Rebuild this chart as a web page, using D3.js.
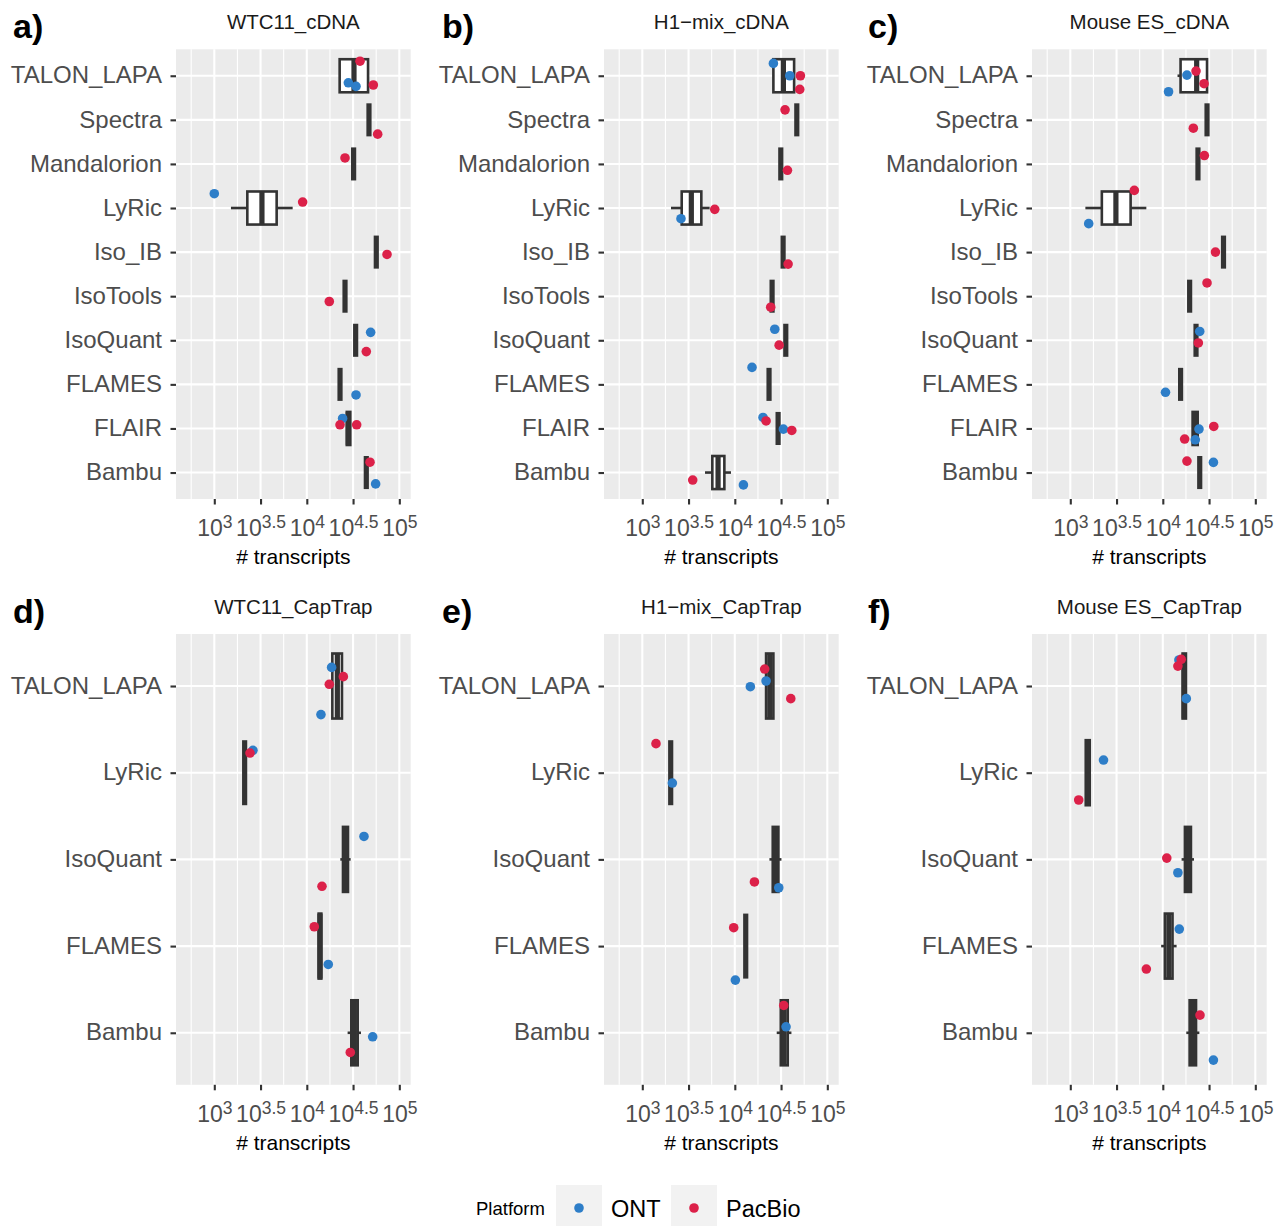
<!DOCTYPE html>
<html>
<head>
<meta charset="utf-8">
<script src="https://cdn.jsdelivr.net/npm/d3@7"></script>
<style>
  body { margin: 0; background: #fff; }
  svg { display: block; }
  text { font-family: "Liberation Sans", Arial, Helvetica, sans-serif; }
</style>
</head>
<body>
<svg id="chart" width="1282" height="1226"></svg>
<script>
// ---- data -------------------------------------------------------------
const cdnaMethods = ["TALON_LAPA", "Spectra", "Mandalorion", "LyRic", "Iso_IB",
                     "IsoTools", "IsoQuant", "FLAMES", "FLAIR", "Bambu"];
const captrapMethods = ["TALON_LAPA", "LyRic", "IsoQuant", "FLAMES", "Bambu"];

const panelTitles = ["WTC11_cDNA", "H1\u2212mix_cDNA", "Mouse ES_cDNA",
                     "WTC11_CapTrap", "H1\u2212mix_CapTrap", "Mouse ES_CapTrap"];
const panelTags = ["a)", "b)", "c)", "d)", "e)", "f)"];

const platforms = ["ONT", "PacBio"];
const platformColors = ["#2e7ec8", "#dc2149"];

const xTickExponents = [3, 3.5, 4, 4.5, 5];
const xTickLabels = ["3", "3.5", "4", "4.5", "5"];
const xMinorExponents = [2.75, 3.25, 3.75, 4.25, 4.75];
const xDomain = [2.586, 5.123];

// Boxplot summaries, log10(# transcripts):
// [method, lower whisker, Q1, median, Q3, upper whisker]
const boxesWtcCdna = [
  ["TALON_LAPA", 4.355, 4.355, 4.510, 4.662, 4.662],
  ["Spectra", 4.672, 4.672, 4.672, 4.672, 4.672],
  ["Mandalorion", 4.506, 4.506, 4.506, 4.506, 4.506],
  ["LyRic", 3.180, 3.357, 3.515, 3.674, 3.847],
  ["Iso_IB", 4.751, 4.751, 4.751, 4.751, 4.751],
  ["IsoTools", 4.413, 4.413, 4.413, 4.413, 4.413],
  ["IsoQuant", 4.528, 4.528, 4.528, 4.528, 4.528],
  ["FLAMES", 4.359, 4.359, 4.359, 4.359, 4.359],
  ["FLAIR", 4.432, 4.432, 4.449, 4.470, 4.470],
  ["Bambu", 4.643, 4.643, 4.643, 4.643, 4.643]
];
const boxesH1Cdna = [
  ["TALON_LAPA", 4.417, 4.417, 4.525, 4.641, 4.641],
  ["Spectra", 4.670, 4.670, 4.670, 4.670, 4.670],
  ["Mandalorion", 4.497, 4.497, 4.497, 4.497, 4.497],
  ["LyRic", 3.310, 3.426, 3.530, 3.638, 3.728],
  ["Iso_IB", 4.522, 4.522, 4.522, 4.522, 4.522],
  ["IsoTools", 4.403, 4.403, 4.403, 4.403, 4.403],
  ["IsoQuant", 4.551, 4.551, 4.551, 4.551, 4.551],
  ["FLAMES", 4.370, 4.370, 4.370, 4.370, 4.370],
  ["FLAIR", 4.468, 4.468, 4.468, 4.468, 4.468],
  ["Bambu", 3.678, 3.757, 3.819, 3.887, 3.959]
];
const boxesMouseCdna = [
  ["TALON_LAPA", 4.159, 4.192, 4.366, 4.478, 4.478],
  ["Spectra", 4.478, 4.478, 4.478, 4.478, 4.478],
  ["Mandalorion", 4.380, 4.380, 4.380, 4.380, 4.380],
  ["LyRic", 3.163, 3.341, 3.493, 3.652, 3.822],
  ["Iso_IB", 4.656, 4.656, 4.656, 4.656, 4.656],
  ["IsoTools", 4.290, 4.290, 4.290, 4.290, 4.290],
  ["IsoQuant", 4.359, 4.359, 4.359, 4.359, 4.359],
  ["FLAMES", 4.192, 4.192, 4.192, 4.192, 4.192],
  ["FLAIR", 4.322, 4.322, 4.348, 4.377, 4.377],
  ["Bambu", 4.399, 4.399, 4.399, 4.399, 4.399]
];
const boxesWtcCaptrap = [
  ["TALON_LAPA", 4.276, 4.276, 4.330, 4.380, 4.380],
  ["LyRic", 3.328, 3.328, 3.328, 3.328, 3.328],
  ["IsoQuant", 4.362, 4.391, 4.416, 4.445, 4.474],
  ["FLAMES", 4.128, 4.128, 4.142, 4.157, 4.157],
  ["Bambu", 4.441, 4.481, 4.514, 4.550, 4.586]
];
const boxesH1Captrap = [
  ["TALON_LAPA", 4.338, 4.338, 4.378, 4.417, 4.417],
  ["LyRic", 3.307, 3.307, 3.307, 3.307, 3.307],
  ["IsoQuant", 4.374, 4.410, 4.439, 4.471, 4.504],
  ["FLAMES", 4.118, 4.118, 4.118, 4.118, 4.118],
  ["Bambu", 4.453, 4.497, 4.533, 4.572, 4.612]
];
const boxesMouseCaptrap = [
  ["TALON_LAPA", 4.214, 4.214, 4.232, 4.250, 4.250],
  ["LyRic", 3.167, 3.167, 3.188, 3.210, 3.210],
  ["IsoQuant", 4.203, 4.239, 4.272, 4.304, 4.337],
  ["FLAMES", 3.982, 4.022, 4.065, 4.105, 4.149],
  ["Bambu", 4.254, 4.290, 4.322, 4.359, 4.395]
];

// Replicate values: [method, platform, log10(# transcripts), vertical jitter in category units]
const pointsWtcCdna = [
  ["TALON_LAPA", "ONT", 4.449, 0.16], ["TALON_LAPA", "ONT", 4.532, 0.24],
  ["TALON_LAPA", "PacBio", 4.575, -0.33], ["TALON_LAPA", "PacBio", 4.719, 0.21],
  ["Spectra", "PacBio", 4.766, 0.325],
  ["Mandalorion", "PacBio", 4.413, -0.136],
  ["LyRic", "ONT", 3.000, -0.325], ["LyRic", "PacBio", 3.955, -0.136],
  ["Iso_IB", "PacBio", 4.867, 0.053],
  ["IsoTools", "PacBio", 4.243, 0.12],
  ["IsoQuant", "ONT", 4.690, -0.18], ["IsoQuant", "PacBio", 4.643, 0.257],
  ["FLAMES", "ONT", 4.532, 0.24],
  ["FLAIR", "ONT", 4.387, -0.227], ["FLAIR", "PacBio", 4.359, -0.083], ["FLAIR", "PacBio", 4.539, -0.083],
  ["Bambu", "ONT", 4.744, 0.257], ["Bambu", "PacBio", 4.683, -0.234]
];
const pointsH1Cdna = [
  ["TALON_LAPA", "ONT", 4.417, -0.28], ["TALON_LAPA", "ONT", 4.594, 0.0],
  ["TALON_LAPA", "PacBio", 4.709, 0.0], ["TALON_LAPA", "PacBio", 4.702, 0.31],
  ["Spectra", "PacBio", 4.543, -0.227],
  ["Mandalorion", "PacBio", 4.569, 0.144],
  ["LyRic", "ONT", 3.418, 0.242], ["LyRic", "PacBio", 3.783, 0.03],
  ["Iso_IB", "PacBio", 4.576, 0.272],
  ["IsoTools", "PacBio", 4.388, 0.25],
  ["IsoQuant", "ONT", 4.432, -0.25], ["IsoQuant", "PacBio", 4.479, 0.11],
  ["FLAMES", "ONT", 4.186, -0.385],
  ["FLAIR", "ONT", 4.305, -0.25], ["FLAIR", "ONT", 4.525, 0.015],
  ["FLAIR", "PacBio", 4.338, -0.17], ["FLAIR", "PacBio", 4.616, 0.045],
  ["Bambu", "ONT", 4.093, 0.28], ["Bambu", "PacBio", 3.545, 0.17]
];
const pointsMouseCdna = [
  ["TALON_LAPA", "ONT", 4.261, -0.015], ["TALON_LAPA", "ONT", 4.062, 0.363],
  ["TALON_LAPA", "PacBio", 4.359, -0.106], ["TALON_LAPA", "PacBio", 4.446, 0.18],
  ["Spectra", "PacBio", 4.330, 0.19],
  ["Mandalorion", "PacBio", 4.449, -0.19],
  ["LyRic", "ONT", 3.199, 0.355], ["LyRic", "PacBio", 3.692, -0.40],
  ["Iso_IB", "PacBio", 4.569, 0.0],
  ["IsoTools", "PacBio", 4.478, -0.3],
  ["IsoQuant", "ONT", 4.399, -0.2], ["IsoQuant", "PacBio", 4.384, 0.06],
  ["FLAMES", "ONT", 4.029, 0.18],
  ["FLAIR", "ONT", 4.391, 0.015], ["FLAIR", "ONT", 4.351, 0.257],
  ["FLAIR", "PacBio", 4.551, -0.045], ["FLAIR", "PacBio", 4.236, 0.24],
  ["Bambu", "ONT", 4.547, -0.23], ["Bambu", "PacBio", 4.261, -0.26]
];
const pointsWtcCaptrap = [
  ["TALON_LAPA", "ONT", 4.268, -0.215], ["TALON_LAPA", "ONT", 4.153, 0.33],
  ["TALON_LAPA", "PacBio", 4.395, -0.108], ["TALON_LAPA", "PacBio", 4.243, -0.02],
  ["LyRic", "ONT", 3.418, -0.258], ["LyRic", "PacBio", 3.386, -0.227],
  ["IsoQuant", "ONT", 4.618, -0.265], ["IsoQuant", "PacBio", 4.164, 0.31],
  ["FLAMES", "ONT", 4.232, 0.212], ["FLAMES", "PacBio", 4.081, -0.223],
  ["Bambu", "ONT", 4.712, 0.046], ["Bambu", "PacBio", 4.470, 0.227]
];
const pointsH1Captrap = [
  ["TALON_LAPA", "ONT", 4.338, -0.058], ["TALON_LAPA", "ONT", 4.168, 0.008],
  ["TALON_LAPA", "PacBio", 4.323, -0.196], ["TALON_LAPA", "PacBio", 4.605, 0.146],
  ["LyRic", "ONT", 3.325, 0.119], ["LyRic", "PacBio", 3.148, -0.335],
  ["IsoQuant", "ONT", 4.475, 0.327], ["IsoQuant", "PacBio", 4.212, 0.26],
  ["FLAMES", "ONT", 4.006, 0.392], ["FLAMES", "PacBio", 3.988, -0.212],
  ["Bambu", "ONT", 4.554, -0.069], ["Bambu", "PacBio", 4.529, -0.315]
];
const pointsMouseCaptrap = [
  ["TALON_LAPA", "ONT", 4.174, -0.3], ["TALON_LAPA", "ONT", 4.254, 0.146],
  ["TALON_LAPA", "PacBio", 4.199, -0.308], ["TALON_LAPA", "PacBio", 4.163, -0.23],
  ["LyRic", "ONT", 3.359, -0.146], ["LyRic", "PacBio", 3.091, 0.315],
  ["IsoQuant", "ONT", 4.163, 0.154], ["IsoQuant", "PacBio", 4.043, -0.015],
  ["FLAMES", "ONT", 4.178, -0.196], ["FLAMES", "PacBio", 3.822, 0.265],
  ["Bambu", "ONT", 4.547, 0.315], ["Bambu", "PacBio", 4.402, -0.204]
];

// ---- layout -------------------------------------------------------------
const panelBoxes = [boxesWtcCdna, boxesH1Cdna, boxesMouseCdna,
                    boxesWtcCaptrap, boxesH1Captrap, boxesMouseCaptrap];
const panelPoints = [pointsWtcCdna, pointsH1Cdna, pointsMouseCdna,
                     pointsWtcCaptrap, pointsH1Captrap, pointsMouseCaptrap];
const panelMethods = [cdnaMethods, cdnaMethods, cdnaMethods,
                      captrapMethods, captrapMethods, captrapMethods];

const colX = [176, 604, 1032];
const panelW = 234.7;
const rowY = [49.3, 634];
const rowH = [449.7, 450.8];

const INK = "#333333";
const AXIS_TEXT = "#4d4d4d";
const color = d3.scaleOrdinal(platforms, platformColors);

const svg = d3.select("#chart");
svg.append("rect").attr("width", 1282).attr("height", 1226).attr("fill", "#ffffff");

panelTitles.forEach((title, i) => {
  const col = i % 3, row = Math.floor(i / 3);
  const x0 = colX[col], y0 = rowY[row], h = rowH[row];
  const methods = panelMethods[i];

  const x = d3.scaleLinear().domain(xDomain).range([0, panelW]);
  const y = d3.scalePoint().domain(methods).range([0, h]).padding(0.6);
  const step = y.step();
  const boxH = step * 0.75;

  const g = svg.append("g").attr("transform", `translate(${x0},${y0})`);

  // panel background + grid
  g.append("rect").attr("width", panelW).attr("height", h).attr("fill", "#ebebeb");
  g.selectAll(".minor").data(xMinorExponents).join("line")
    .attr("x1", d => x(d)).attr("x2", d => x(d)).attr("y1", 0).attr("y2", h)
    .attr("stroke", "#fff").attr("stroke-width", 1.1);
  g.selectAll(".major").data(xTickExponents).join("line")
    .attr("x1", d => x(d)).attr("x2", d => x(d)).attr("y1", 0).attr("y2", h)
    .attr("stroke", "#fff").attr("stroke-width", 2.1);
  g.selectAll(".hgrid").data(methods).join("line")
    .attr("x1", 0).attr("x2", panelW).attr("y1", d => y(d)).attr("y2", d => y(d))
    .attr("stroke", "#fff").attr("stroke-width", 2.1);

  // boxplots
  const boxes = g.append("g").selectAll("g").data(panelBoxes[i]).join("g");
  boxes.each(function (b) {
    const [m, lo, q1, med, q3, hi] = b;
    const s = d3.select(this);
    const cy = y(m);
    if (lo < q1) s.append("line").attr("x1", x(lo)).attr("x2", x(q1))
      .attr("y1", cy).attr("y2", cy).attr("stroke", INK).attr("stroke-width", 2.6);
    if (hi > q3) s.append("line").attr("x1", x(q3)).attr("x2", x(hi))
      .attr("y1", cy).attr("y2", cy).attr("stroke", INK).attr("stroke-width", 2.6);
    if (q3 > q1) s.append("rect").attr("x", x(q1)).attr("width", x(q3) - x(q1))
      .attr("y", cy - boxH / 2).attr("height", boxH)
      .attr("fill", "#fff").attr("stroke", INK).attr("stroke-width", 2.6);
    s.append("line").attr("x1", x(med)).attr("x2", x(med))
      .attr("y1", cy - boxH / 2).attr("y2", cy + boxH / 2)
      .attr("stroke", INK).attr("stroke-width", 5.2);
  });

  // replicate points
  g.append("g").selectAll("circle").data(panelPoints[i]).join("circle")
    .attr("cx", d => x(d[2]))
    .attr("cy", d => y(d[0]) + d[3] * step)
    .attr("r", 4.8)
    .attr("fill", d => color(d[1]));

  // y axis
  const yAxis = g.append("g").call(d3.axisLeft(y).tickSize(5.5).tickPadding(8.5));
  yAxis.select(".domain").remove();
  yAxis.selectAll(".tick line").attr("stroke", INK).attr("stroke-width", 2.1);
  yAxis.selectAll(".tick text").attr("fill", AXIS_TEXT)
    .style("font-size", "24px").attr("font-family", null).attr("dy", "0.3em");

  // x axis with power-of-ten labels
  const xAxis = g.append("g").attr("transform", `translate(0,${h})`)
    .call(d3.axisBottom(x).tickValues(xTickExponents).tickSize(5.5).tickFormat(""));
  xAxis.select(".domain").remove();
  xAxis.selectAll(".tick line").attr("stroke", INK).attr("stroke-width", 2.1);
  xAxis.selectAll(".tick text").remove();
  xAxis.selectAll(".tick").each(function (d, k) {
    const t = d3.select(this).append("text")
      .attr("y", 37).attr("text-anchor", "middle").attr("fill", AXIS_TEXT);
    t.append("tspan").style("font-size", "23px").text("10");
    t.append("tspan").style("font-size", "17.5px").attr("dy", -8).text(xTickLabels[k]);
  });

  // axis title
  g.append("text").attr("x", panelW / 2).attr("y", h + 65)
    .attr("text-anchor", "middle").attr("fill", "#000").style("font-size", "21px")
    .text("# transcripts");

  // facet title
  g.append("text").attr("x", panelW / 2).attr("y", -20)
    .attr("text-anchor", "middle").attr("fill", "#1a1a1a").style("font-size", "20.5px")
    .text(title);

  // panel tag
  svg.append("text").attr("x", col === 0 ? 13 : col === 1 ? 442 : 868)
    .attr("y", y0 - 11).attr("fill", "#000")
    .style("font-size", "34px").style("font-weight", "bold")
    .text(panelTags[i]);
});

// ---- legend ------------------------------------------------------------
const legend = svg.append("g").attr("transform", "translate(476,1185)");
legend.append("text").attr("x", 0).attr("y", 30).attr("fill", "#000")
  .style("font-size", "18.5px").text("Platform");
const keyX = [80, 195];
platforms.forEach((p, k) => {
  legend.append("rect").attr("x", keyX[k]).attr("y", 0).attr("width", 46).attr("height", 41)
    .attr("fill", "#f2f2f2");
  legend.append("circle").attr("cx", keyX[k] + 23).attr("cy", 23).attr("r", 4.8)
    .attr("fill", color(p));
  legend.append("text").attr("x", keyX[k] + 55).attr("y", 32).attr("fill", "#000")
    .style("font-size", "23.5px").text(p);
});
</script>
</body>
</html>
